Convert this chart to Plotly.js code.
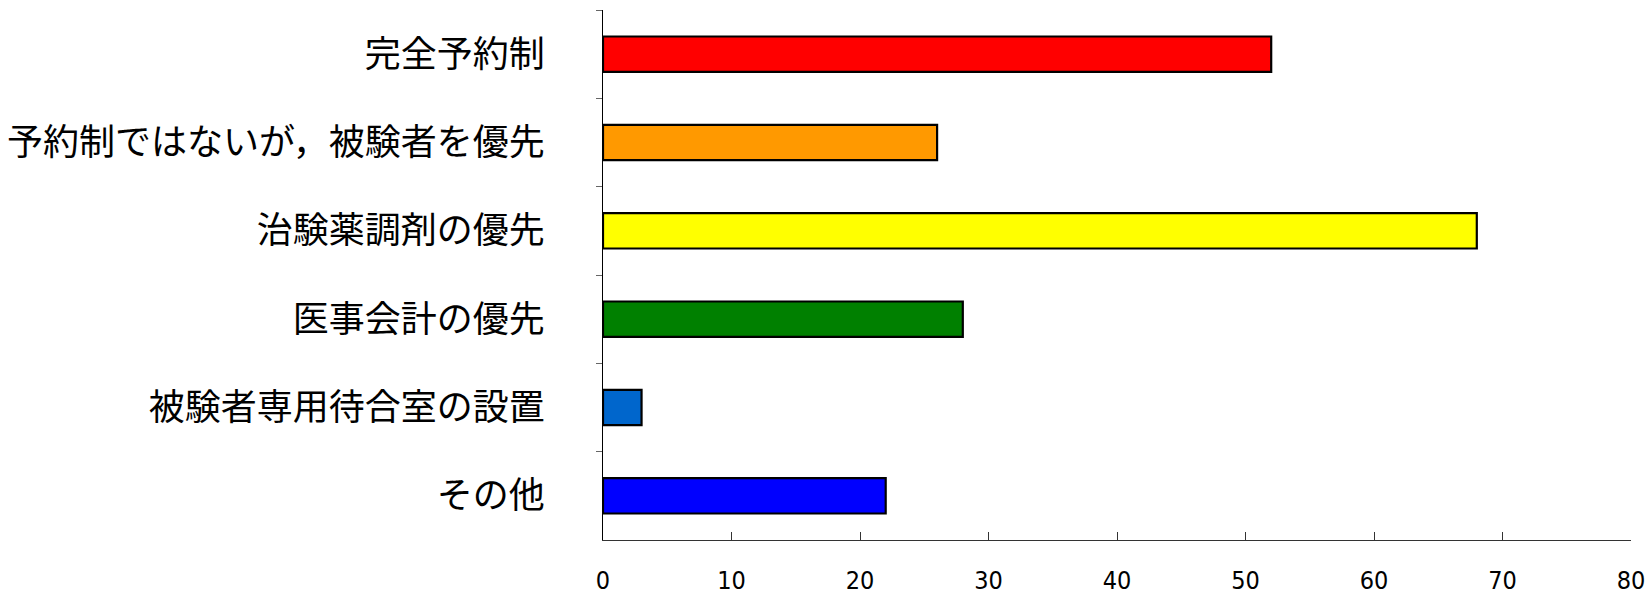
<!DOCTYPE html>
<html>
<head>
<meta charset="utf-8">
<script src="https://cdn.plot.ly/plotly-3.0.1.min.js"></script>
<style>html,body{margin:0;padding:0;background:#fff;}#chart{width:1650px;height:594px;}</style>
</head>
<body>
<div id="chart"></div>
<script>
const categories = ["完全予約制", "予約制ではないが，被験者を優先", "治験薬調剤の優先", "医事会計の優先", "被験者専用待合室の設置", "その他"];
const values = [52, 26, 68, 28, 3, 22];
const barColors = ["#FF0000", "#FF9900", "#FFFF00", "#008000", "#0066CC", "#0000FF"];
const xTicks = [0, 10, 20, 30, 40, 50, 60, 70, 80];

const trace = {
  type: "bar",
  orientation: "h",
  x: values,
  y: categories,
  marker: {color: barColors, line: {color: "#000000", width: 2.2}},
  hoverinfo: "x+y"
};

const layout = {
  width: 1650, height: 594,
  margin: {l: 603, r: 19, t: 10, b: 54, pad: 0},
  paper_bgcolor: "#ffffff", plot_bgcolor: "#ffffff",
  showlegend: false,
  bargap: 0.6,
  xaxis: {
    range: [0, 80], tickvals: xTicks, ticktext: xTicks.map(String),
    showgrid: false, zeroline: false,
    showline: true, linecolor: "#333333", linewidth: 1,
    ticks: "inside", ticklen: 8, tickcolor: "#333333", tickwidth: 1,
    tickfont: {family: "Liberation Sans Narrow, DejaVu Sans Condensed, sans-serif", size: 25, color: "#000"},
    ticklabelstandoff: 18
  },
  yaxis: {
    type: "category", autorange: "reversed",
    showgrid: false, zeroline: false,
    showline: true, linecolor: "#000000", linewidth: 1,
    ticks: "outside", ticklen: 6, tickcolor: "#666666", tickwidth: 1,
    tickson: "boundaries",
    tickfont: {family: "Noto Sans CJK JP, sans-serif", size: 36, color: "#000"},
    ticklabelstandoff: 50
  }
};

Plotly.newPlot("chart", [trace], layout, {displayModeBar: false, staticPlot: true});
</script>
</body>
</html>
